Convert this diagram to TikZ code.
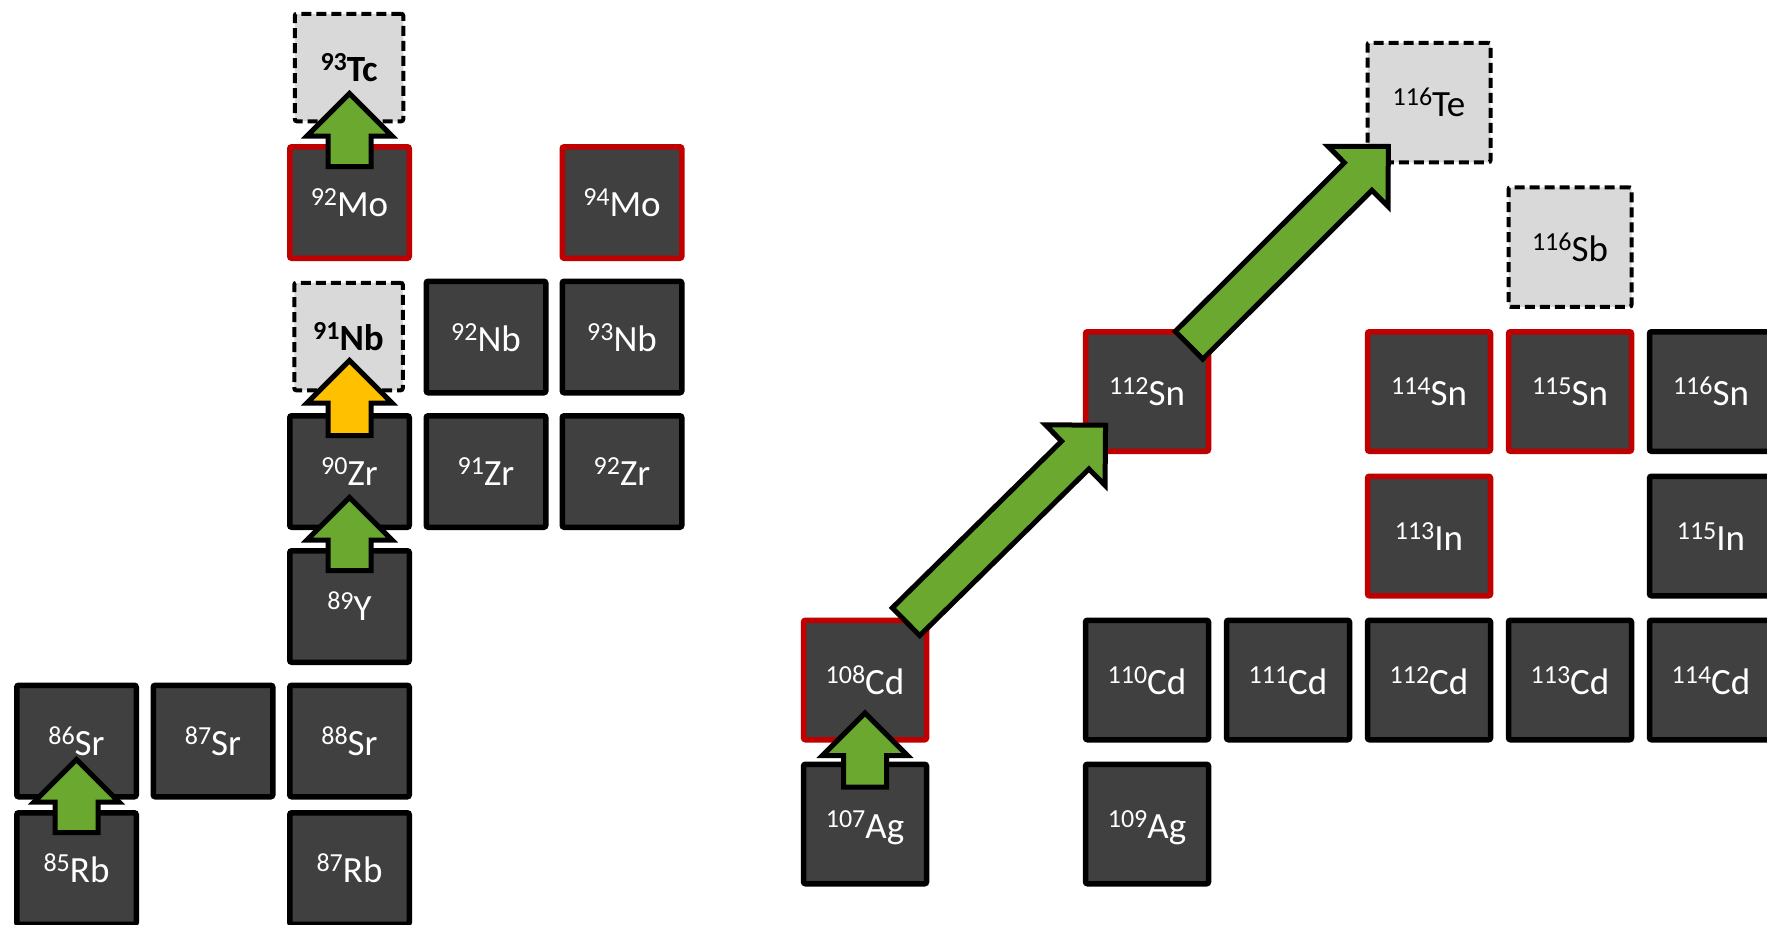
\documentclass[tikz,border=0pt]{standalone}
\usepackage{fontspec}
\setmainfont{Carlito}
\usetikzlibrary{calc,shapes.arrows}

\definecolor{boxgray}{HTML}{404040}
\definecolor{ghostgray}{HTML}{D9D9D9}
\definecolor{stablered}{HTML}{C00000}
\definecolor{capgreen}{HTML}{6BA830}
\definecolor{capyellow}{HTML}{FFC000}

% isotope label: mass number as a raised superscript, then the symbol
\newcommand\iso[2]{\raisebox{11pt}{\fontsize{26}{26}\selectfont #1}#2}
\newcommand\isofont{\fontsize{37}{44}\selectfont}

% block arrow from a tail coordinate to a tip coordinate
\newcommand\blockarr[3][]{%
  \path let \p1=($(#3)-(#2)$), \n1={veclen(\x1,\y1)} in
    (#2) -- (#3) node[pos=0, sloped, anchor=tail, blockarrow, #1, minimum height=\n1] {};%
}

\begin{document}
\begin{tikzpicture}[x=1pt, y=-1pt,
  nbox/.style={draw=black, fill=boxgray, line width=5.5pt, rounded corners=2pt,
    text=white, font=\isofont, text height=28.5pt, text depth=0pt, inner sep=0pt},
  lbox/.style={nbox, minimum width=119.5pt, minimum height=111.5pt},
  rbox/.style={nbox, minimum width=123pt, minimum height=119.5pt},
  stable/.style={draw=stablered},
  ghost/.style={draw=black, fill=ghostgray, text=black, line width=4pt,
    dash pattern=on 10pt off 5pt},
  lghost/.style={nbox, ghost, minimum width=108.5pt, minimum height=107.5pt, font=\isofont\bfseries},
  rghost/.style={nbox, ghost, minimum width=123pt, minimum height=119.5pt},
  % shaft width = 2 x inner ysep, head width = shaft + 2 x head extend
  blockarrow/.style={single arrow, draw=black, line width=5pt, inner xsep=0pt,
    inner ysep=19pt, single arrow head extend=21pt, single arrow tip angle=90},
  slantarrow/.style={inner ysep=17pt, single arrow head extend=23pt},
  greenarrow/.style={fill=capgreen},
  yellowarrow/.style={fill=capyellow},
]
\useasboundingbox (0,0) rectangle (1767,924);

% ---- Rb / Sr / Y / Zr / Nb / Mo / Tc region ----
\node[lbox] (rb85) at (76.5,868.5) {\iso{85}{Rb}};
\node[lbox] (rb87) at (349.5,868.5) {\iso{87}{Rb}};
\node[lbox] (sr86) at (76.5,741) {\iso{86}{Sr}};
\node[lbox] (sr87) at (213,741) {\iso{87}{Sr}};
\node[lbox] (sr88) at (349.5,741) {\iso{88}{Sr}};
\node[lbox] (y89) at (349.5,606.5) {\iso{89}{Y}};
\node[lbox] (zr90) at (349.5,471.5) {\iso{90}{Zr}};
\node[lbox] (zr91) at (486,471.5) {\iso{91}{Zr}};
\node[lbox] (zr92) at (622,471.5) {\iso{92}{Zr}};
\node[lghost] (nb91) at (348.5,336.5) {\iso{91}{Nb}};
\node[lbox] (nb92) at (486,337) {\iso{92}{Nb}};
\node[lbox] (nb93) at (622,337) {\iso{93}{Nb}};
\node[lbox, stable] (mo92) at (349.5,202.5) {\iso{92}{Mo}};
\node[lbox, stable] (mo94) at (622,202.5) {\iso{94}{Mo}};
\node[lghost] (tc93) at (349,67.5) {\iso{93}{Tc}};

% ---- Ag / Cd / In / Sn / Sb / Te region ----
\node[rbox] (ag107) at (865,824) {\iso{107}{Ag}};
\node[rbox] (ag109) at (1147,824) {\iso{109}{Ag}};
\node[rbox, stable] (cd108) at (865,680) {\iso{108}{Cd}};
\node[rbox] (cd110) at (1147,680) {\iso{110}{Cd}};
\node[rbox] (cd111) at (1288,680) {\iso{111}{Cd}};
\node[rbox] (cd112) at (1429,680) {\iso{112}{Cd}};
\node[rbox] (cd113) at (1570,680) {\iso{113}{Cd}};
\node[rbox] (cd114) at (1711,680) {\iso{114}{Cd}};
\node[rbox, stable] (in113) at (1429,536) {\iso{113}{In}};
\node[rbox] (in115) at (1711,536) {\iso{115}{In}};
\node[rbox, stable] (sn112) at (1147,391.5) {\iso{112}{Sn}};
\node[rbox, stable] (sn114) at (1429,391.5) {\iso{114}{Sn}};
\node[rbox, stable] (sn115) at (1570,391.5) {\iso{115}{Sn}};
\node[rbox] (sn116) at (1711,391.5) {\iso{116}{Sn}};
\node[rghost] (sb116) at (1570,247) {\iso{116}{Sb}};
\node[rghost] (te116) at (1429,102.5) {\iso{116}{Te}};

% ---- capture arrows ----
\coordinate (t1) at ($(rb85.north)+(0,25)$);
\coordinate (h1) at ($(t1)+(0,-73)$);
\blockarr[greenarrow]{t1}{h1}

\coordinate (t2) at ($(y89.north)+(0,25)$);
\coordinate (h2) at ($(t2)+(0,-73)$);
\blockarr[greenarrow]{t2}{h2}

\coordinate (t3) at ($(zr90.north)+(0,25)$);
\coordinate (h3) at ($(t3)+(0,-75)$);
\blockarr[yellowarrow]{t3}{h3}

\coordinate (t4) at ($(mo92.north)+(0,25)$);
\coordinate (h4) at ($(t4)+(0,-73)$);
\blockarr[greenarrow]{t4}{h4}

\coordinate (t5) at ($(ag107.north)+(0,28)$);
\coordinate (h5) at ($(t5)+(0,-74)$);
\blockarr[greenarrow]{t5}{h5}

\coordinate (t6) at ($(cd108.north east)+(-25,6)$);
\coordinate (h6) at ($(sn112.south west)+(21,-27)$);
\blockarr[greenarrow, slantarrow]{t6}{h6}

\coordinate (t7) at ($(sn112.north east)+(-24,18)$);
\coordinate (h7) at ($(te116.south west)+(21,-16)$);
\blockarr[greenarrow, slantarrow]{t7}{h7}
\end{tikzpicture}
\end{document}
